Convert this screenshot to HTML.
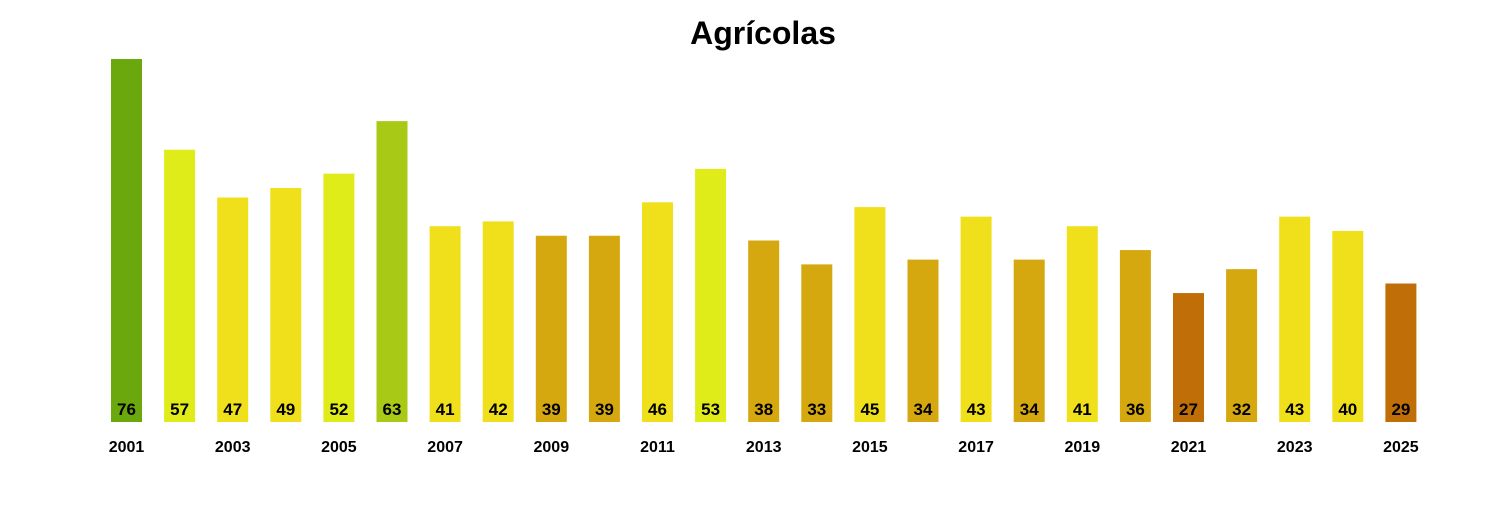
<!DOCTYPE html>
<html><head><meta charset="utf-8"><style>
body{margin:0;background:#fff;font-family:"Liberation Sans",Arial,sans-serif}
</style></head><body>
<svg width="1500" height="500" xmlns="http://www.w3.org/2000/svg">
<text x="763" y="44" text-anchor="middle" font-size="32" font-weight="bold">Agrícolas</text>
<g id="bars"></g>
</svg>
<script>
const years=[2001,2002,2003,2004,2005,2006,2007,2008,2009,2010,2011,2012,2013,2014,2015,2016,2017,2018,2019,2020,2021,2022,2023,2024,2025];
const values=[76,57,47,49,52,63,41,42,39,39,46,53,38,33,45,34,43,34,41,36,27,32,43,40,29];
const tickYears=[2001,2003,2005,2007,2009,2011,2013,2015,2017,2019,2021,2023,2025];
function xScale(i){return 126.5+i*53.1;}
function yScale(v){return 422-v*4.776;}
function color(v){if(v<30)return '#c06f08';if(v<40)return '#d6a80f';if(v<50)return '#f0e01b';if(v<60)return '#e0eb1a';if(v<70)return '#a8ca16';return '#6aa80e';}
const g=document.getElementById('bars');const ns='http://www.w3.org/2000/svg';
values.forEach((v,i)=>{
 const r=document.createElementNS(ns,'rect');
 r.setAttribute('x',xScale(i)-15.5);r.setAttribute('width',31);
 r.setAttribute('y',yScale(v));r.setAttribute('height',422-yScale(v));
 r.setAttribute('fill',color(v));
 
 
 g.appendChild(r);
 const t=document.createElementNS(ns,'text');
 t.setAttribute('x',xScale(i));t.setAttribute('y',415);
 t.setAttribute('text-anchor','middle');t.setAttribute('font-size','17');t.setAttribute('font-weight','bold');
 t.textContent=v;
 
 
 g.appendChild(t);
});
tickYears.forEach(y=>{
 const i=years.indexOf(y);
 const t=document.createElementNS(ns,'text');
 t.setAttribute('x',xScale(i));t.setAttribute('y',452);
 t.setAttribute('text-anchor','middle');t.setAttribute('font-size','16');t.setAttribute('font-weight','bold');
 t.textContent=y;
 
 
 g.appendChild(t);
});
</script>
</body></html>
